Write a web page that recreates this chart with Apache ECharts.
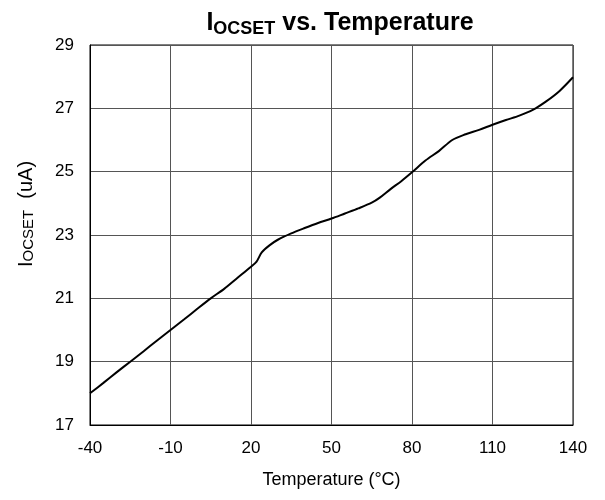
<!DOCTYPE html>
<html>
<head>
<meta charset="utf-8">
<script src="https://cdn.jsdelivr.net/npm/echarts@6/dist/echarts.min.js"></script>
<style>html,body{margin:0;padding:0;background:#fff}#c{width:605px;height:500px}</style>
</head>
<body>
<div id="c"></div>
<script>
var temps = [-40,-35,-30,-25,-20,-15,-10,-5,0,5,10,15,20,22,24,27,30,35,40,45,50,55,60,65,68,72,76,80,85,90,95,100,105,110,115,120,125,130,135,140];
var iocset = [18.0,18.33,18.67,19.0,19.33,19.67,20.0,20.33,20.67,21.0,21.3,21.65,22.0,22.15,22.45,22.68,22.85,23.05,23.22,23.38,23.52,23.68,23.84,24.02,24.18,24.45,24.7,24.98,25.35,25.65,26.0,26.18,26.32,26.48,26.63,26.77,26.95,27.22,27.55,27.98];
var xTicks = {min:-40, max:140, step:30};
var yTicks = {min:17, max:29, step:2};

var chart = echarts.init(document.getElementById('c'));
var font = 'Liberation Sans, Arial, sans-serif';
chart.setOption({
  animation:false,
  backgroundColor:'#fff',
  title:{
    text:'{a|I}{b|OCSET}{a| vs. Temperature}',
    left:335, textAlign:'center', top:3,
    textStyle:{
      rich:{
        a:{fontFamily:font,fontSize:25,fontWeight:'bold',color:'#000',verticalAlign:'bottom',lineHeight:28},
        b:{fontFamily:font,fontSize:18,fontWeight:'bold',color:'#000',verticalAlign:'bottom',lineHeight:20,padding:[0,0,-2,0]}
      }
    }
  },
  grid:{left:90,right:32,top:45,bottom:75,show:true,borderColor:'#000',borderWidth:1,containLabel:false},
  xAxis:{
    type:'value', min:xTicks.min, max:xTicks.max, interval:xTicks.step,
    name:'Temperature (°C)', nameLocation:'middle', nameGap:46,
    nameTextStyle:{fontFamily:font,fontSize:18,color:'#000'},
    axisLine:{show:true,onZero:false,lineStyle:{color:'#000',width:1}},
    axisTick:{show:false},
    axisLabel:{fontFamily:font,fontSize:17,color:'#000',margin:15},
    splitLine:{show:true,lineStyle:{color:'#555',width:1}}
  },
  yAxis:{
    type:'value', min:yTicks.min, max:yTicks.max, interval:yTicks.step,
    name:'{a|I}{b|OCSET}{a|  (uA)}', nameLocation:'middle', nameGap:54, nameRotate:90,
    nameTextStyle:{
      padding:[0,0,0,42],
      rich:{
        a:{fontFamily:font,fontSize:20,color:'#000',verticalAlign:'bottom',lineHeight:22},
        b:{fontFamily:font,fontSize:15,color:'#000',verticalAlign:'bottom',lineHeight:18}
      }
    },
    axisLine:{show:true,onZero:false,lineStyle:{color:'#000',width:1}},
    axisTick:{show:false},
    axisLabel:{fontFamily:font,fontSize:17,color:'#000',margin:16},
    splitLine:{show:true,lineStyle:{color:'#555',width:1}}
  },
  series:[{
    type:'line',
    data:temps.map(function(t,i){return [t,iocset[i]];}),
    showSymbol:false, smooth:0.3,
    lineStyle:{color:'#000',width:2},
    clip:true
  }]
});
</script>
</body>
</html>
